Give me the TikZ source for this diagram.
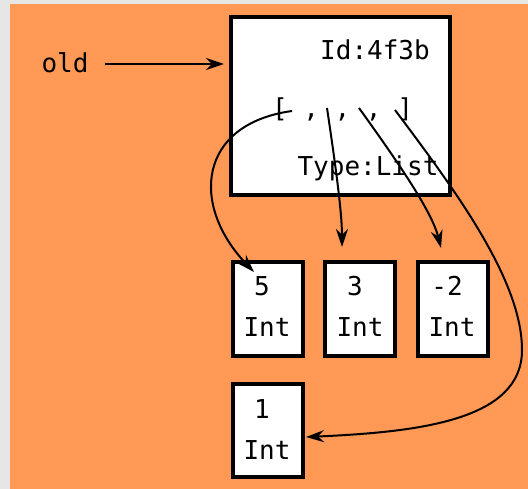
\documentclass[tikz,border=0pt]{standalone}
\usepackage{fontspec}
\setmonofont{DejaVu Sans Mono}
\usetikzlibrary{arrows.meta}
\definecolor{bggray}{HTML}{E6E6E6}
\definecolor{bgorange}{HTML}{FF9955}
\begin{document}
\begin{tikzpicture}[x=1pt,y=-1pt,
  lbl/.style={font=\ttfamily\fontsize{26}{26}\selectfont, inner sep=0pt, anchor=base},
  objbox/.style={draw=black, fill=white, line width=4pt, inner sep=0pt},
  ptr/.style={line width=2pt, -{Stealth[length=18pt,width=12pt,inset=6pt]}}
]
\useasboundingbox (0,0) rectangle (528,489);
\fill[bggray] (0,0) rectangle (528,489);
\fill[bgorange] (10,4) rectangle (528,489);

% list object
\node[objbox, minimum width=219pt, minimum height=178pt] (list) at (340.5,106) {};
\node[lbl] (id) at (375,60) {Id:4f3b};
\node[lbl] (elems) at (342.5,118) {[ , , , ]};
\node[lbl] (type) at (368,176) {Type:List};

% int objects
\node[objbox, minimum width=70pt, minimum height=94pt] (b5) at (268,309) {};
\node[objbox, minimum width=70pt, minimum height=94pt] (b3) at (360,309) {};
\node[objbox, minimum width=70pt, minimum height=94pt] (bm2) at (453,309) {};
\node[objbox, minimum width=70pt, minimum height=93pt] (b1) at (268,430.5) {};
\node[lbl] (v5) at (262,296) {5};
\node[lbl] (t5) at (267,337) {Int};
\node[lbl] (v3) at (355,296) {3};
\node[lbl] (t3) at (360,337) {Int};
\node[lbl] (vm2) at (447,296) {-2};
\node[lbl] (tm2) at (452,337) {Int};
\node[lbl] (v1) at (262,418) {1};
\node[lbl] (t1) at (267,459) {Int};

% variable name
\node[lbl] (old) at (65,73) {old};

% connector end points
\coordinate (s1) at (292,111);
\coordinate (s2) at (327,108);
\coordinate (s3) at (359,108);
\coordinate (s4) at (395,110);
\coordinate (e1) at (254,272);
\coordinate (e2) at (342,247);
\coordinate (e3) at (441,248);
\coordinate (e4) at (306,437);
\coordinate (eold) at (224,64);
\coordinate (sold) at (105,64);

\draw[ptr] (sold) -- (eold);
\draw[ptr] (s1) .. controls (198,124) and (190,205) .. (e1);
\draw[ptr] (s2) .. controls (337,175) and (342,215) .. (e2);
\draw[ptr] (s3) .. controls (400,165) and (432,212) .. (e3);
\draw[ptr] (s4) .. controls (455,190) and (522,280) .. (522,350)
               .. controls (522,420) and (420,432) .. (e4);
\end{tikzpicture}
\end{document}
